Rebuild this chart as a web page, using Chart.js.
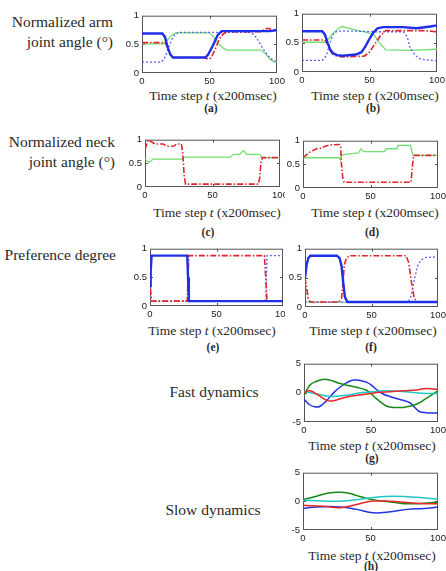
<!DOCTYPE html>
<html><head><meta charset="utf-8">
<script src="https://cdn.jsdelivr.net/npm/chart.js@4.4.1/dist/chart.umd.min.js"></script>
<style>
body{margin:0;width:446px;height:571px;position:relative;background:#fff;overflow:hidden;font-family:'Liberation Serif','DejaVu Serif','Noto Serif',serif;color:#2a2a2a}
.lbl{position:absolute;font-size:15.5px;white-space:nowrap;line-height:18px}
.r{text-align:right;left:0}
.c{transform:translate(-50%,-50%)}
.xt{position:absolute;font-size:13.5px;white-space:nowrap;transform:translate(-50%,-50%);line-height:15px}
.cap{position:absolute;font-size:11.5px;font-weight:bold;transform:translate(-50%,-50%);line-height:13px}
.wrap{position:absolute;left:0;top:0;height:571px;overflow:hidden}
canvas{position:absolute}
</style></head><body>
<div class="lbl r" style="width:113px;top:13px">Normalized arm</div>
<div class="lbl r" style="width:113px;top:33px">joint angle (°)</div>
<div class="lbl r" style="width:115px;top:133px">Normalized neck</div>
<div class="lbl r" style="width:115px;top:153px">joint angle (°)</div>
<div class="lbl r" style="width:116px;top:246px">Preference degree</div>
<div class="lbl c" style="left:214px;top:392px">Fast dynamics</div>
<div class="lbl c" style="left:213px;top:510px">Slow dynamics</div>

<div class="xt" style="left:213px;top:95px">Time step <i>t</i> (x200msec)</div>
<div class="xt" style="left:375px;top:95px">Time step <i>t</i> (x200msec)</div>
<div class="xt" style="left:217px;top:212px">Time step <i>t</i> (x200msec)</div>
<div class="xt" style="left:375px;top:212px">Time step <i>t</i> (x200msec)</div>
<div class="xt" style="left:212px;top:330px">Time step <i>t</i> (x200msec)</div>
<div class="xt" style="left:373px;top:330px">Time step <i>t</i> (x200msec)</div>
<div class="xt" style="left:372px;top:445px">Time step <i>t</i> (x200msec)</div>
<div class="xt" style="left:372px;top:555px">Time step <i>t</i> (x200msec)</div>

<div class="cap" style="left:211px;top:108px">(a)</div>
<div class="cap" style="left:373px;top:108px">(b)</div>
<div class="cap" style="left:208px;top:232px">(c)</div>
<div class="cap" style="left:372px;top:232px">(d)</div>
<div class="cap" style="left:213px;top:347px">(e)</div>
<div class="cap" style="left:371px;top:347px">(f)</div>
<div class="cap" style="left:372px;top:458px">(g)</div>
<div class="cap" style="left:371px;top:566px">(h)</div>

<script>
// ---------- tick values ----------
const xTicks = [0, 50, 100];
const unitTicks = [0, 0.5, 1];
const dynTicks = [-5, 0, 5];

// ---------- (a) arm angle ----------
const aBlueT = [0,15,17,19,21,23,47,49,53,56,59,95,100];
const aBlueV = [0.69,0.69,0.63,0.45,0.32,0.27,0.27,0.32,0.5,0.66,0.73,0.73,0.75];
const aRedT = [0,17,19,21,23,46,49,51,54,57,60,63,88,91,94,97,100];
const aRedV = [0.53,0.53,0.45,0.33,0.27,0.27,0.24,0.26,0.4,0.58,0.68,0.72,0.72,0.77,0.78,0.74,0.73];
const aGreenT = [0,16,19,22,25,50,53,57,61,63,88,91,95,97,100];
const aGreenV = [0.51,0.51,0.58,0.66,0.7,0.7,0.63,0.5,0.42,0.4,0.4,0.35,0.24,0.2,0.2];
const aDotT = [0,14,16,18,20,22,24,27,80,83,86,89,92,95,98,100];
const aDotV = [0.19,0.19,0.23,0.33,0.47,0.58,0.66,0.71,0.71,0.67,0.57,0.45,0.34,0.26,0.21,0.2];

// ---------- (b) arm angle ----------
const bBlueT = [0,15,17,19,21,23,26,30,40,44,47,50,53,56,60,75,85,95,100];
const bBlueV = [0.70,0.70,0.64,0.5,0.38,0.32,0.29,0.28,0.3,0.34,0.44,0.57,0.68,0.75,0.77,0.77,0.75,0.78,0.8];
const bRedT = [0,17,19,21,24,30,46,50,54,58,62,80,90,100];
const bRedV = [0.55,0.55,0.47,0.36,0.28,0.26,0.27,0.34,0.48,0.62,0.71,0.71,0.71,0.69];
const bGreenT = [0,17,20,23,27,30,40,48,53,57,62,80,100];
const bGreenV = [0.51,0.51,0.58,0.66,0.75,0.78,0.72,0.68,0.65,0.51,0.38,0.37,0.39];
const bDotT = [0,15,18,20.5,23,26,40,55,75,78,80,84,88,100];
const bDotV = [0.2,0.2,0.28,0.48,0.65,0.7,0.7,0.69,0.69,0.6,0.42,0.28,0.22,0.19];

// ---------- (c) neck angle ----------
const cRedT = [0,2.5,5,7.5,13.5,16,21,23.5,27,28,29,30,84,85,86,87,100];
const cRedV = [0.8,1.0,0.95,0.91,0.91,0.86,0.86,0.91,0.91,0.7,0.25,0.06,0.06,0.2,0.55,0.62,0.62];
const cGreenT = [0,1.5,3.2,6,28,29,63,65.5,70,73,75.5,85,86.5,100];
const cGreenV = [0.6,0.55,0.52,0.59,0.59,0.63,0.63,0.69,0.69,0.77,0.69,0.69,0.62,0.62];

// ---------- (d) neck angle ----------
const dRedT = [0,5,10,13.5,16,20,27,28,28.5,29.5,30.5,80,81,82,100];
const dRedV = [0.64,0.76,0.83,0.84,0.88,0.91,0.92,0.85,0.5,0.2,0.12,0.12,0.45,0.69,0.69];
const dGreenT = [0,27,27.7,28.7,35,41,43,45,60.5,61.5,69.5,70.5,79.5,81.5,100];
const dGreenV = [0.64,0.64,0.59,0.7,0.72,0.74,0.83,0.77,0.77,0.83,0.83,0.9,0.9,0.69,0.69];

// ---------- (e) preference ----------
const eBlueT = [0,0.5,1.2,28,28.6,29.2,100];
const eBlueV = [0.35,0.6,0.88,0.88,0.5,0.085,0.085];
const eRedT = [0,0.6,1.2,28,28.6,29.2,86,87,88,100];
const eRedV = [0.5,0.2,0.085,0.085,0.5,0.88,0.88,0.5,0.085,0.085];
const eDotT = [0,0.8,87,88,100];
const eDotV = [0.45,0.085,0.085,0.88,0.88];
const eGreenT = [0,0.8,100];
const eGreenV = [0.45,0.085,0.085];

// ---------- (f) preference ----------
const fBlueT = [0,1.2,2.5,4,24,26,27.5,28.7,30,32,100];
const fBlueV = [0.5,0.72,0.84,0.88,0.88,0.84,0.7,0.43,0.17,0.085,0.085];
const fRedT = [0,2.5,4,25.5,27.5,28.7,29.5,31.2,33.5,76,78,80,82,84,100];
const fRedV = [0.5,0.15,0.085,0.085,0.15,0.43,0.72,0.84,0.88,0.88,0.76,0.43,0.17,0.085,0.085];
const fDotT = [0,77.5,80,82.5,85,87.5,91,100];
const fDotV = [0.085,0.085,0.2,0.5,0.73,0.81,0.85,0.86];
const fGreenT = [0,2.5,100];
const fGreenV = [0.45,0.085,0.085];

// ---------- (g) fast dynamics ----------
const gRedT = [0,4.5,10,17,20.5,26,32,40,47,55,64,74,84,91,100];
const gRedV = [0.05,0.35,-0.3,-1.3,-1.4,-1.1,-0.7,-0.4,-0.2,0.05,0.2,0.35,0.5,0.75,0.6];
const gCyanT = [0,10,19,30,44,55,61,76,88,100];
const gCyanV = [0.25,-0.2,-0.6,-0.45,0.05,0.25,0.35,0.2,-0.05,-0.1];
const gGreenT = [0,4.5,9.5,14,19,27,33,39,47,54,59,63,69,74,84,91,99,100];
const gGreenV = [-0.4,1.35,2.0,2.3,2.2,1.6,1.25,0.95,0.4,-1.0,-1.9,-2.4,-2.5,-2.5,-1.95,-1.0,0.2,0.3];
const gBlueT = [0,4,8,12,17,22,27,32,37,42,47,51,55,59,65,71,79,83,86,91,100];
const gBlueV = [-1.1,-2.0,-2.4,-2.3,-1.3,0,1.0,1.76,2.2,2.1,1.8,1.2,0.4,-0.2,-0.7,-1.1,-1.7,-2.6,-3.2,-3.4,-3.45];

// ---------- (h) slow dynamics ----------
const hGreenT = [0,10,20,27.5,34,40,46,52,60,68,75,85,95,100];
const hGreenV = [0.3,0.9,1.5,1.6,1.4,1.0,0.6,0.3,0,-0.2,-0.4,-0.4,-0.25,-0.1];
const hCyanT = [0,15,30,45,60,75,90,100];
const hCyanV = [0.2,0.05,0.05,0.45,0.85,0.85,0.6,0.35];
const hRedT = [0,15,27.5,42,52,65,77,90,100];
const hRedV = [-0.7,-0.85,-1.1,-0.4,0.05,0,-0.2,-0.4,-0.4];
const hBlueT = [0,10,27.5,40,52,65,77,90,100];
const hBlueV = [-1.25,-0.97,-0.97,-1.4,-2.0,-1.8,-1.4,-1.25,-1.0];

// ---------- styles ----------
const ST = {
  blue:    {borderColor:'#1f2fe8', borderWidth:2.4},
  red:     {borderColor:'#e0262b', borderWidth:1.6, borderDash:[6,2,1.5,2]},
  green:   {borderColor:'#72de72', borderWidth:1.3},
  blueDot: {borderColor:'#5a64ea', borderWidth:1.3, borderDash:[2,2]},
  greenDot:{borderColor:'#72de72', borderWidth:1.3, borderDash:[2,2]},
  dBlue:   {borderColor:'#2233e0', borderWidth:1.5, tension:0.4},
  dRed:    {borderColor:'#e8262b', borderWidth:1.5, tension:0.4},
  dGreen:  {borderColor:'#168a16', borderWidth:1.5, tension:0.4},
  dCyan:   {borderColor:'#22c6c6', borderWidth:1.5, tension:0.4}
};

function pts(t, v){ return t.map((x,i)=>({x:x, y:v[i]})); }

const boxPlugin = {
  id:'boxTicks',
  beforeDatasetsDraw(chart){
    const ctx = chart.ctx, a = chart.chartArea, x = chart.scales.x, y = chart.scales.y;
    const mid = chart.options.plugins.boxTicks.mid;
    ctx.save();
    ctx.strokeStyle = '#555'; ctx.lineWidth = 1;
    ctx.strokeRect(a.left+0.5, a.top+0.5, a.right-a.left-1, a.bottom-a.top-1);
    ctx.beginPath();
    const xm = Math.round(x.getPixelForValue(50))+0.5;
    ctx.moveTo(xm, a.bottom); ctx.lineTo(xm, a.bottom-3);
    ctx.moveTo(xm, a.top); ctx.lineTo(xm, a.top+3);
    const ym = Math.round(y.getPixelForValue(mid))+0.5;
    ctx.moveTo(a.left, ym); ctx.lineTo(a.left+3, ym);
    ctx.moveTo(a.right, ym); ctx.lineTo(a.right-3, ym);
    ctx.stroke();
    ctx.restore();
  }
};

function panel(box, yMin, yMax, yTicks, mid, sets, clipRight){
  const W = box[2]-box[0]+50, H = box[3]-box[1]+24;
  let host = document.body;
  if (clipRight){
    host = document.createElement('div');
    host.className = 'wrap';
    host.style.width = clipRight+'px';
    document.body.appendChild(host);
  }
  const c = document.createElement('canvas');
  c.width = W; c.height = H;
  c.style.left = (box[0]-30)+'px'; c.style.top = (box[1]-8)+'px';
  c.style.width = W+'px'; c.style.height = H+'px';
  host.appendChild(c);
  const tickFont = {family:"'Liberation Sans', Arial, sans-serif", size:9.5};
  new Chart(c, {
    type:'line',
    data:{datasets: sets.map(s => Object.assign({data: pts(s[0], s[1]), pointRadius:0, fill:false, tension:0}, ST[s[2]]))},
    options:{
      responsive:false, animation:false, devicePixelRatio:1,
      layout:{padding:{top:8,right:20,left:0,bottom:0}, autoPadding:false},
      plugins:{legend:{display:false}, tooltip:{enabled:false}, boxTicks:{mid:mid}},
      scales:{
        x:{type:'linear', min:0, max:100,
           afterBuildTicks:s=>{ s.ticks = xTicks.map(v=>({value:v})); },
           afterFit:s=>{ s.height = 16; },
           grid:{display:false, drawTicks:false}, border:{display:false},
           ticks:{font:tickFont, color:'#222', padding:3, maxRotation:0, autoSkip:false}},
        y:{type:'linear', min:yMin, max:yMax,
           afterBuildTicks:s=>{ s.ticks = yTicks.map(v=>({value:v})); },
           afterFit:s=>{ s.width = 30; },
           grid:{display:false, drawTicks:false}, border:{display:false},
           ticks:{font:tickFont, color:'#222', padding:3, autoSkip:false, callback:v=>String(v)}}
      }
    },
    plugins:[boxPlugin]
  });
}

panel([142,15,277,73], 0, 1, unitTicks, 0.5, [
  [aBlueT,aBlueV,'blue'],[aRedT,aRedV,'red'],[aDotT,aDotV,'blueDot'],[aGreenT,aGreenV,'green']]);
panel([302,13,437,72], 0, 1, unitTicks, 0.5, [
  [bBlueT,bBlueV,'blue'],[bRedT,bRedV,'red'],[bDotT,bDotV,'blueDot'],[bGreenT,bGreenV,'green']]);
panel([145,139,280,187], 0, 1, unitTicks, 0.5, [
  [cRedT,cRedV,'red'],[cGreenT,cGreenV,'green']], 285);
panel([303,140,438,188], 0, 1, unitTicks, 0.5, [
  [dRedT,dRedV,'red'],[dGreenT,dGreenV,'green']]);
panel([150,248,283,306], 0, 1, unitTicks, 0.5, [
  [eBlueT,eBlueV,'blue'],[eRedT,eRedV,'red'],[eDotT,eDotV,'blueDot'],[eGreenT,eGreenV,'greenDot']], 285);
panel([305,248,438,307], 0, 1, unitTicks, 0.5, [
  [fBlueT,fBlueV,'blue'],[fRedT,fRedV,'red'],[fDotT,fDotV,'blueDot'],[fGreenT,fGreenV,'greenDot']]);
panel([304,363,438,422], -5, 5, dynTicks, 0, [
  [gRedT,gRedV,'dRed'],[gCyanT,gCyanV,'dCyan'],[gGreenT,gGreenV,'dGreen'],[gBlueT,gBlueV,'dBlue']]);
panel([303,472,438,530], -5, 5, dynTicks, 0, [
  [hRedT,hRedV,'dRed'],[hCyanT,hCyanV,'dCyan'],[hGreenT,hGreenV,'dGreen'],[hBlueT,hBlueV,'dBlue']]);
</script>
</body></html>
